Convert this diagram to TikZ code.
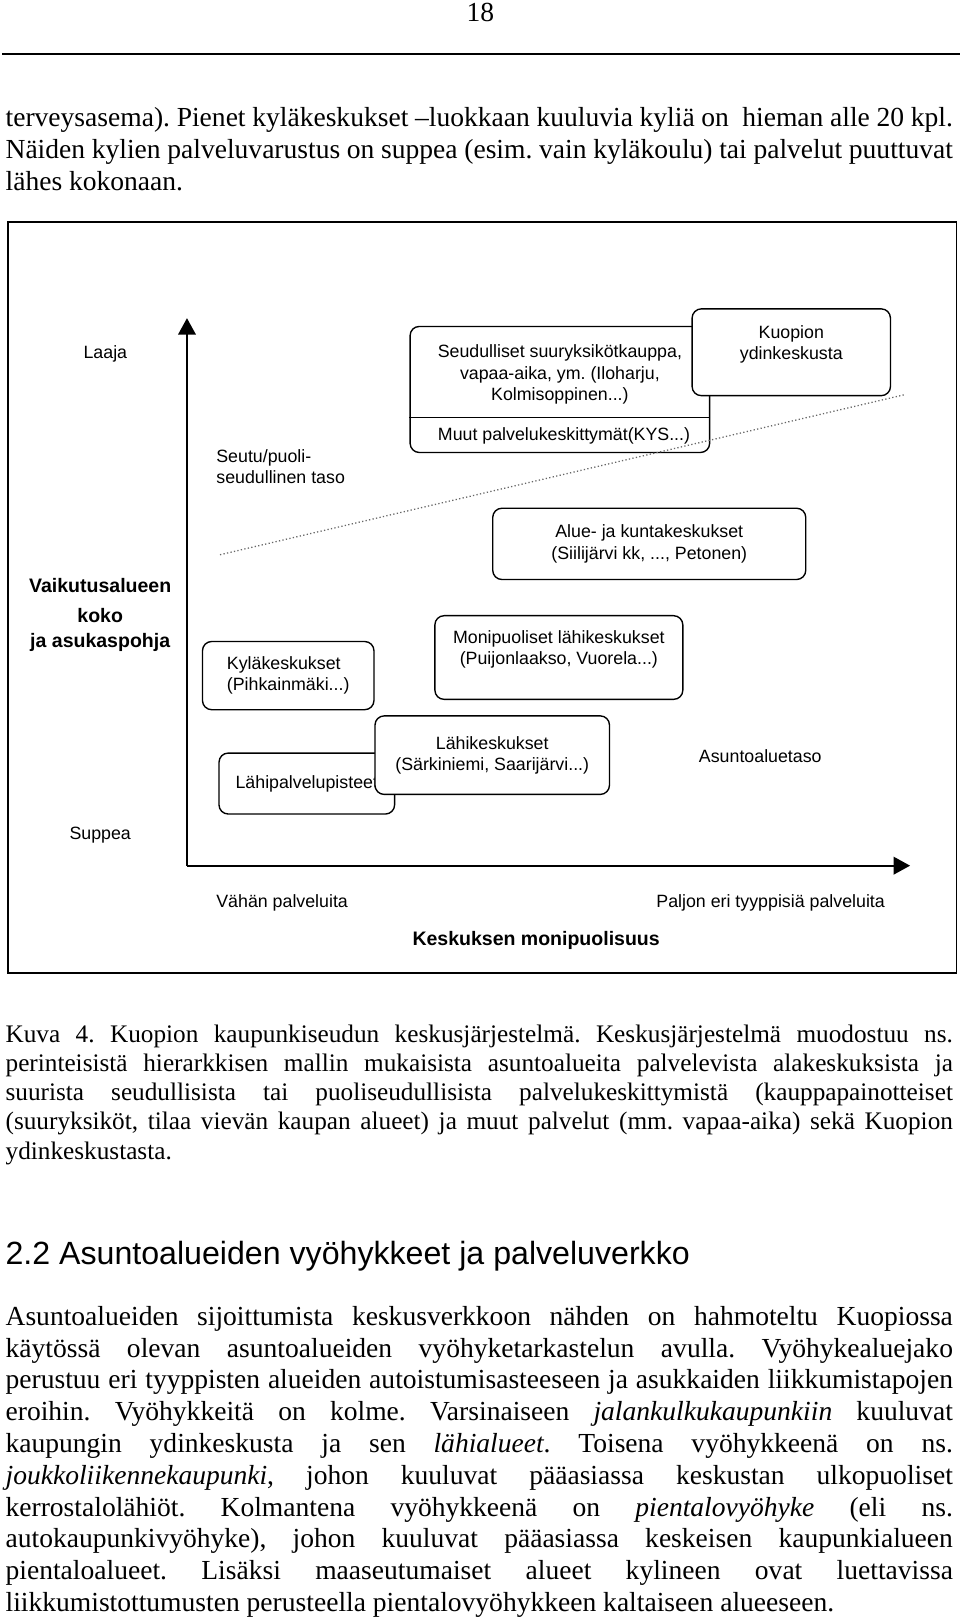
\documentclass[tikz,border=0pt]{standalone}
\usepackage{fontspec}
\setmainfont{Liberation Serif}
\newfontfamily\arialfont{Liberation Sans}
\usetikzlibrary{arrows.meta}
\newlength\parw
\setlength\parw{412.65pt}
\newcommand\diagfont{\arialfont\fontsize{7.75}{9.3}\selectfont}
\newcommand\diagbold{\arialfont\bfseries\fontsize{8.5}{10.8}\selectfont}
\hyphenpenalty=10000
\frenchspacing
\tikzset{
  box/.style={draw, line width=0.6pt, rounded corners=4pt, fill=white, inner sep=0pt, font=\diagfont, align=center},
  lbl/.style={inner sep=0pt, font=\diagfont},
  blbl/.style={inner sep=0pt, font=\diagbold, align=center},
  axis/.style={line width=0.8pt, -{Triangle[length=7.2pt,width=7.7pt]}},
  levelline/.style={gray!80!black, line width=0.55pt, densely dotted},
  para/.style={anchor=base west, inner sep=0pt, text width=\parw, align=justify},
}
\begin{document}
\begin{tikzpicture}[x=0.45pt, y=-0.45pt]
\useasboundingbox (0,0) rectangle (929.3,1569.2);
% page head
\node[font=\fontsize{12}{14}\selectfont] (pagenum) at (465,12) {18};
\draw[line width=1pt] (2,52) -- (929,52);
\node[para, font=\fontsize{12}{13.95}\selectfont] (intro) at (5,122) {terveysasema). Pienet kyläkeskukset --luokkaan kuuluvia kyliä on \ hieman alle 20 kpl.\linebreak
Näiden kylien palveluvarustus on suppea (esim. vain kyläkoulu) tai palvelut puuttuvat\linebreak
lähes kokonaan.};
% diagram
\draw[line width=0.7pt] (8,215) rectangle (926,942);
\coordinate (origin) at (181,838);
\coordinate (ytop) at (181,308);
\coordinate (xend) at (881,838);
\draw[axis] (origin) -- (ytop);
\draw[axis] (origin) -- (xend);
\node[lbl] (laaja) at (102,343) {Laaja};
\node[lbl, align=left, anchor=west] (seututaso) at (209,452) {Seutu/puoli-\\seudullinen taso};
\node[blbl] (vaikutus) at (97,595) {Vaikutusalueen\\[2.2pt]koko\\ja asukaspohja};
\node[lbl] (suppea) at (97,808) {Suppea};
\node[lbl] (asunto) at (736,732) {Asuntoaluetaso};
\node[lbl, anchor=west] (vahan) at (209,874) {Vähän palveluita};
\node[lbl] (paljon) at (746,874) {Paljon eri tyyppisiä palveluita};
\node[blbl] (xtitle) at (519,910) {Keskuksen monipuolisuus};
% centres
\node[box, minimum width=130.5pt, minimum height=54.9pt, text depth=14.5pt] (seud) at (542,377) {Seudulliset suuryksikötkauppa,\\vapaa-aika, ym. (Iloharju,\\Kolmisoppinen...)};
\node[lbl] (muut) at (546,422) {Muut palvelukeskittymät(KYS...)};
\coordinate (split) at (0,404);
\draw[line width=0.6pt] (seud.west |- split) -- (seud.east |- split);
\node[box, minimum width=86.4pt, minimum height=37.8pt, text depth=8.5pt] (kuopio) at (766,341) {Kuopion\\ydinkeskusta};
\node[box, minimum width=136.35pt, minimum height=31.05pt] (alue) at (628.5,526.5) {Alue- ja kuntakeskukset\\(Siilijärvi kk, ..., Petonen)};
\node[box, minimum width=108pt, minimum height=36.45pt, text depth=8.5pt] (moni) at (541,636.5) {Monipuoliset lähikeskukset\\(Puijonlaakso, Vuorela...)};
\node[box, align=left, minimum width=74.7pt, minimum height=29.7pt] (kyla) at (279,654) {Kyläkeskukset\\(Pihkainmäki...)};
\node[box, minimum width=76.5pt, minimum height=26.55pt] (lpp) at (297,758.5) {Lähipalvelupisteet};
\node[box, minimum width=102.15pt, minimum height=34.2pt] (lahi) at (476.5,731) {Lähikeskukset\\(Särkiniemi, Saarijärvi...)};
\coordinate (lvlstart) at (213,537);
\coordinate (lvlend) at (876,382);
\draw[levelline] (lvlstart) -- (lvlend);
% caption and text
\node[para, font=\fontsize{11}{12.71}\selectfont] (caption) at (5,1009) {Kuva 4. Kuopion kaupunkiseudun keskusjärjestelmä. Keskusjärjestelmä muodostuu ns.\linebreak
perinteisistä hierarkkisen mallin mukaisista asuntoalueita palvelevista alakeskuksista ja\linebreak
suurista seudullisista tai puoliseudullisista palvelukeskittymistä (kauppapainotteiset\linebreak
(suuryksiköt, tilaa vievän kaupan alueet) ja muut palvelut (mm. vapaa-aika) sekä Kuopion\linebreak
ydinkeskustasta.};
\node[anchor=base west, inner sep=0pt, font=\arialfont\fontsize{14}{16}\selectfont] (heading) at (5,1224) {2.2 Asuntoalueiden vyöhykkeet ja palveluverkko};
\node[para, font=\fontsize{12}{13.85}\selectfont] (zones) at (5,1283) {Asuntoalueiden sijoittumista keskusverkkoon nähden on hahmoteltu Kuopiossa\linebreak
käytössä olevan asuntoalueiden vyöhyketarkastelun avulla. Vyöhykealuejako\linebreak
perustuu eri tyyppisten alueiden autoistumisasteeseen ja asukkaiden liikkumistapojen\linebreak
eroihin. Vyöhykkeitä on kolme. Varsinaiseen \emph{jalankulkukaupunkiin} kuuluvat\linebreak
kaupungin ydinkeskusta ja sen \emph{lähialueet}. Toisena vyöhykkeenä on ns.\linebreak
\emph{joukkoliikennekaupunki}, johon kuuluvat pääasiassa keskustan ulkopuoliset\linebreak
kerrostalolähiöt. Kolmantena vyöhykkeenä on \emph{pientalovyöhyke} (eli ns.\linebreak
autokaupunkivyöhyke), johon kuuluvat pääasiassa keskeisen kaupunkialueen\linebreak
pientaloalueet. Lisäksi maaseutumaiset alueet kylineen ovat luettavissa\linebreak
liikkumistottumusten perusteella pientalovyöhykkeen kaltaiseen alueeseen.};
\end{tikzpicture}
\end{document}
